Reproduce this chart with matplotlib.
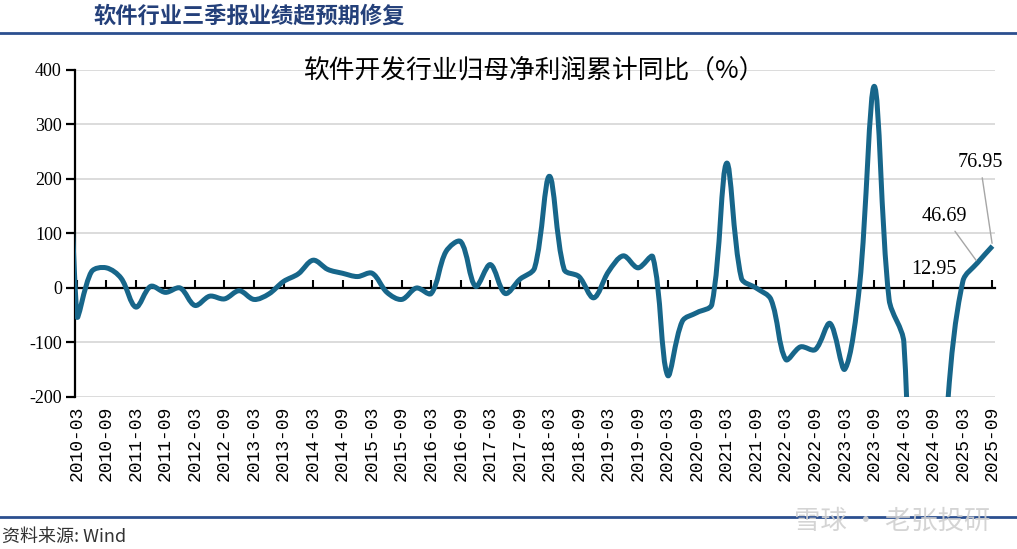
import numpy as np
import matplotlib
matplotlib.use("Agg")
import matplotlib.pyplot as plt
from matplotlib.path import Path
from matplotlib.patches import PathPatch
from matplotlib.lines import Line2D

CJK = ['Noto Sans CJK SC', 'DejaVu Sans']
SERIF = ['Liberation Serif', 'DejaVu Serif']
plt.rcParams['font.family'] = SERIF

# ---------------- data ----------------
quarters = [f"{y}-{m:02d}" for y in range(2009, 2026) for m in (3, 6, 9, 12)]
quarters = quarters[quarters.index("2009-12"):quarters.index("2025-09") + 1]

values = [
    900,                      # 2009-12 (enters the chart from above, clipped)
    -50, 30, 37, 18,          # 2010
    -35, 3, -8, 0,            # 2011
    -32, -15, -20, -5,        # 2012
    -21, -11, 12, 26,         # 2013
    51, 34, 27, 21,           # 2014
    27, -8, -21, 0,           # 2015
    -10, 67, 85, 3,           # 2016
    43, -10, 16, 37,          # 2017
    205, 34, 21, -18,         # 2018
    30, 59, 37, 57,           # 2019
    -160, -61, -45, -30,      # 2020
    229, 18, 0, -21,          # 2021
    -131, -108, -113, -65,    # 2022
    -149, 5, 370, -21,        # 2023
    -100, -900, -700, -200,   # 2024
    12.95, 46.69, 76.95,      # 2025
]
labelled = {"2025-03": 12.95, "2025-06": 46.69, "2025-09": 76.95}
tick_labels = [q for q in quarters if q.endswith("-03") or q.endswith("-09")]
yticks = [-200, -100, 0, 100, 200, 300, 400]

title_top = "软件行业三季报业绩超预期修复"
chart_title = "软件开发行业归母净利润累计同比（%）"
source = "资料来源: Wind"
watermark = "雪球 · 老张投研"

LINE_C = '#17668a'
BLUE = '#24407a'

# ---------------- figure ----------------
W, H = 1017, 549
fig = plt.figure(figsize=(W / 100, H / 100), dpi=100)
ax = fig.add_axes([75 / W, 1 - 397 / H, (995 - 75) / W, (397 - 70) / H])

x0 = quarters.index("2010-03")
xs = np.arange(len(quarters)) - x0
ys = np.array(values, dtype=float)
ymin, ymax = yticks[0], yticks[-1]
ax.set_xlim(-0.12, xs[-1] + 0.17)
ax.set_ylim(ymin, ymax)

# smoothed line (Bezier through every data point, tangents scaled by segment length)
def smooth_path(x, y, k=1 / 3):
    P = ax.transData.transform(np.column_stack([x, y]))
    n = len(P)
    verts = [P[0]]
    codes = [Path.MOVETO]
    for i in range(n - 1):
        p0 = P[i - 1] if i > 0 else P[i]
        p1, p2 = P[i], P[i + 1]
        p3 = P[i + 2] if i + 2 < n else P[i + 1]
        d01 = np.hypot(*(p1 - p0)); d12 = np.hypot(*(p2 - p1)); d23 = np.hypot(*(p3 - p2))
        c1 = p1 + (p2 - p0) * k * (d12 / (d01 + d12))
        c2 = p2 - (p3 - p1) * k * (d12 / (d12 + d23))
        verts += [c1, c2, p2]
        codes += [Path.CURVE4] * 3
    verts = ax.transData.inverted().transform(np.array(verts))
    return Path(verts, codes)

patch = PathPatch(smooth_path(xs, ys), fill=False, edgecolor=LINE_C, lw=3.6,
                  joinstyle='round', capstyle='butt', zorder=3)
ax.add_patch(patch)

# axes styling
for s in ['top', 'right', 'bottom']:
    ax.spines[s].set_visible(False)
ax.spines['left'].set_linewidth(1.6)
ax.set_yticks(yticks)
ax.set_yticklabels([str(v) for v in yticks])
ax.tick_params(axis='y', direction='out', length=6.5, width=1.6, pad=3, labelsize=13)
ax.yaxis.grid(True, color='#d9d9d9', lw=1.3)
ax.set_axisbelow(True)

tick_pos = [xs[quarters.index(q)] for q in tick_labels]
ax.set_xticks(tick_pos)
ax.set_xticklabels(tick_labels, rotation=90)
ax.tick_params(axis='x', length=0, pad=6, labelsize=13)
for t in ax.get_xticklabels():
    t.set_fontfamily(['Liberation Mono', 'DejaVu Sans Mono'])
for t in ax.get_yticklabels():
    t.set_fontfamily(SERIF)

# zero axis with inward ticks
sec = ax.secondary_xaxis((0 - ymin) / (ymax - ymin))
sec.set_zorder(2.5)
sec.set_xticks(tick_pos)
sec.tick_params(axis='x', direction='in', length=6, width=1.5, labelbottom=False, labeltop=False)
sec.spines['bottom'].set_linewidth(1.6)

# data labels
offsets = {"2025-03": (-21, 8), "2025-06": (-24, 33), "2025-09": (-9, 60)}
for q, v in labelled.items():
    xi = xs[quarters.index(q)]
    dx, dy = offsets[q]
    if q == "2025-03":
        ax.annotate(f"{v:.2f}", (xi, v), xytext=(dx, dy), textcoords='offset points',
                    ha='center', va='center', family=SERIF, fontsize=14.5)
    else:
        ax.annotate(f"{v:.2f}", (xi, v), xytext=(dx, dy), textcoords='offset points',
                    ha='center', va='center', family=SERIF, fontsize=14.5,
                    arrowprops=dict(arrowstyle='-', color='#a6a6a6', lw=1.0,
                                    shrinkA=2, shrinkB=2))

# titles & decorations
fig.text(93 / W, 1 - 16 / H, title_top, ha='left', va='center', fontsize=16,
         fontweight='bold', color=BLUE, family=CJK)
fig.add_artist(Line2D([0, 1], [1 - 32.5 / H] * 2, transform=fig.transFigure,
                      color='#2b4f8f', lw=2.0))
fig.text(534 / W, 1 - 70 / H, chart_title, ha='center', va='center', fontsize=18.5,
         color='black', family=CJK)
fig.add_artist(Line2D([0, 1], [1 - 517 / H] * 2, transform=fig.transFigure,
                      color='#2b4f8f', lw=2.0))
fig.text(2 / W, 1 - 537 / H, source, ha='left', va='center', fontsize=13,
         style='italic', color='#333333', family=CJK)
fig.text(990 / W, 1 - 521 / H, watermark, ha='right', va='center', fontsize=19,
         color='#d0d0d0', alpha=0.9, family=CJK)

fig.savefig("out.png", dpi=100)
